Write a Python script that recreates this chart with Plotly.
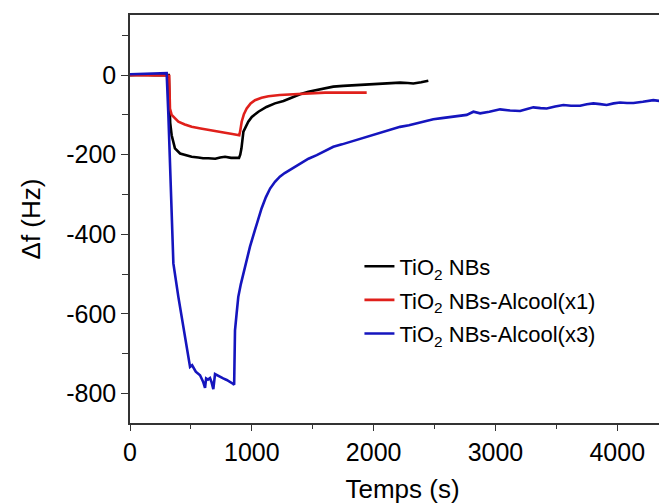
import plotly.graph_objects as go

# ---- data ----
t_black = [0, 100, 200, 300, 318, 323, 330, 342, 369, 411, 460, 506, 560, 600, 643, 700, 740, 780, 830, 870, 895,
           905, 915, 931, 950, 971, 1000, 1054, 1120, 1190, 1260, 1327, 1396, 1464, 1533, 1601, 1669, 1750, 1850,
           1943, 2030, 2120, 2217, 2280, 2326, 2390, 2449]
y_black = [0, 1, 0, 1, 0, -60, -120, -151, -184, -197, -202, -205, -207, -209, -209, -210, -207, -205, -208, -207, -208,
           -200, -184, -142, -128, -117, -105, -92, -80, -71, -65, -57, -48, -42, -37, -33, -29, -27, -25,
           -24, -22, -21, -19, -20, -21, -18, -14]

t_red = [0, 150, 300, 322, 328, 342, 370, 397, 450, 506, 580, 643, 710, 780, 840, 897, 905, 917, 935, 958, 990,
         1026, 1080, 1136, 1230, 1327, 1460, 1601, 1669, 1800, 1943]
y_red = [0, 0, -1, -2, -84, -100, -110, -117, -124, -130, -134, -138, -141, -145, -148, -151, -140, -117, -98, -84, -71,
         -63, -57, -53, -50, -48, -46, -44, -44, -44, -44]

t_blue = [0, 100, 200, 290, 301, 315, 329, 342, 356, 397, 452, 493, 510, 540, 575, 600, 616, 625, 640, 657, 670, 684,
          698, 720, 739, 765, 794, 820, 848, 855, 860, 862, 875, 889, 910, 931, 960, 985, 1026, 1055, 1080, 1115,
          1150, 1190, 1230, 1270, 1314, 1355, 1396, 1465, 1533, 1600, 1669, 1740, 1806, 1875, 1943, 2010, 2080,
          2150, 2217, 2290, 2354, 2420, 2490, 2560, 2627, 2700, 2764, 2819, 2874, 2950, 3038, 3120, 3202, 3260,
          3311, 3370, 3421, 3490, 3558, 3620, 3695, 3750, 3804, 3860, 3913, 3970, 4023, 4080, 4133, 4210, 4296,
          4350, 4410, 4474]
y_blue = [2, 3, 4, 5, 5, -100, -226, -389, -473, -557, -658, -733, -729, -745, -754, -770, -786, -762, -765, -761, -772,
          -789, -751, -755, -758, -762, -766, -770, -776, -778, -700, -641, -600, -557, -525, -498, -460, -431, -389,
          -360, -335, -307, -285, -268, -255, -246, -238, -230, -222, -210, -201, -190, -180, -174, -168, -160, -155,
          -148, -142, -136, -130, -126, -121, -116, -111, -108, -105, -102, -100, -92, -96, -92, -86, -89, -90, -85,
          -81, -83, -84, -79, -75, -77, -77, -73, -71, -73, -75, -71, -69, -70, -70, -67, -63, -65, -67, -66]

names = ["TiO<sub>2</sub> NBs", "TiO<sub>2</sub> NBs-Alcool(x1)", "TiO<sub>2</sub> NBs-Alcool(x3)"]
colors = ["#000000", "#E0201B", "#1515BE"]

y_tickvals = [0, -200, -400, -600, -800]
y_ticktext = ["0", "-200", "-400", "-600", "-800"]
x_tickvals = [0, 1000, 2000, 3000, 4000]

FONT = "Liberation Sans, Arial, sans-serif"

fig = go.Figure()
for i, (tx, ty) in enumerate([(t_black, y_black), (t_red, y_red), (t_blue, y_blue)]):
    fig.add_trace(go.Scatter(x=tx, y=ty, mode="lines", name=names[i], legendgroup=f"g{i}",
                             line=dict(color=colors[i], width=2.6)))

fig.update_layout(
    width=667, height=504,
    margin=dict(l=122, r=0, t=7, b=89),
    paper_bgcolor="white", plot_bgcolor="white",
    font=dict(family=FONT, color="#000000"),
    showlegend=True,
    legend=dict(x=0.421, y=0.435, xanchor="left", yanchor="top", bgcolor="rgba(0,0,0,0)",
                font=dict(size=22, family=FONT), tracegroupgap=2),
)
fig.update_xaxes(
    range=[0, 4474], tickvals=x_tickvals, ticks="outside", ticklen=6, tickwidth=1.2, tickcolor="#333",
    showline=True, linecolor="#333", linewidth=1.5, mirror=True, showgrid=False, zeroline=False,
    automargin=False,
    tickfont=dict(size=25), title=dict(text="Temps (s)", font=dict(size=26), standoff=15),
    minor=dict(dtick=500, tick0=0, ticks="outside", ticklen=4, tickcolor="#333"),
)
fig.update_yaxes(
    range=[-874, 151], tickvals=y_tickvals, ticktext=y_ticktext, ticks="outside", ticklen=7, tickwidth=1.2,
    tickcolor="#333", showline=True, linecolor="#333", linewidth=1.5, mirror=True, showgrid=False, zeroline=False,
    automargin=False,
    tickfont=dict(size=25), title=dict(text="Δf (Hz)", font=dict(size=26), standoff=18),
    minor=dict(dtick=100, tick0=0, ticks="outside", ticklen=6, tickcolor="#333"),
)

fig.write_html("out.html")
